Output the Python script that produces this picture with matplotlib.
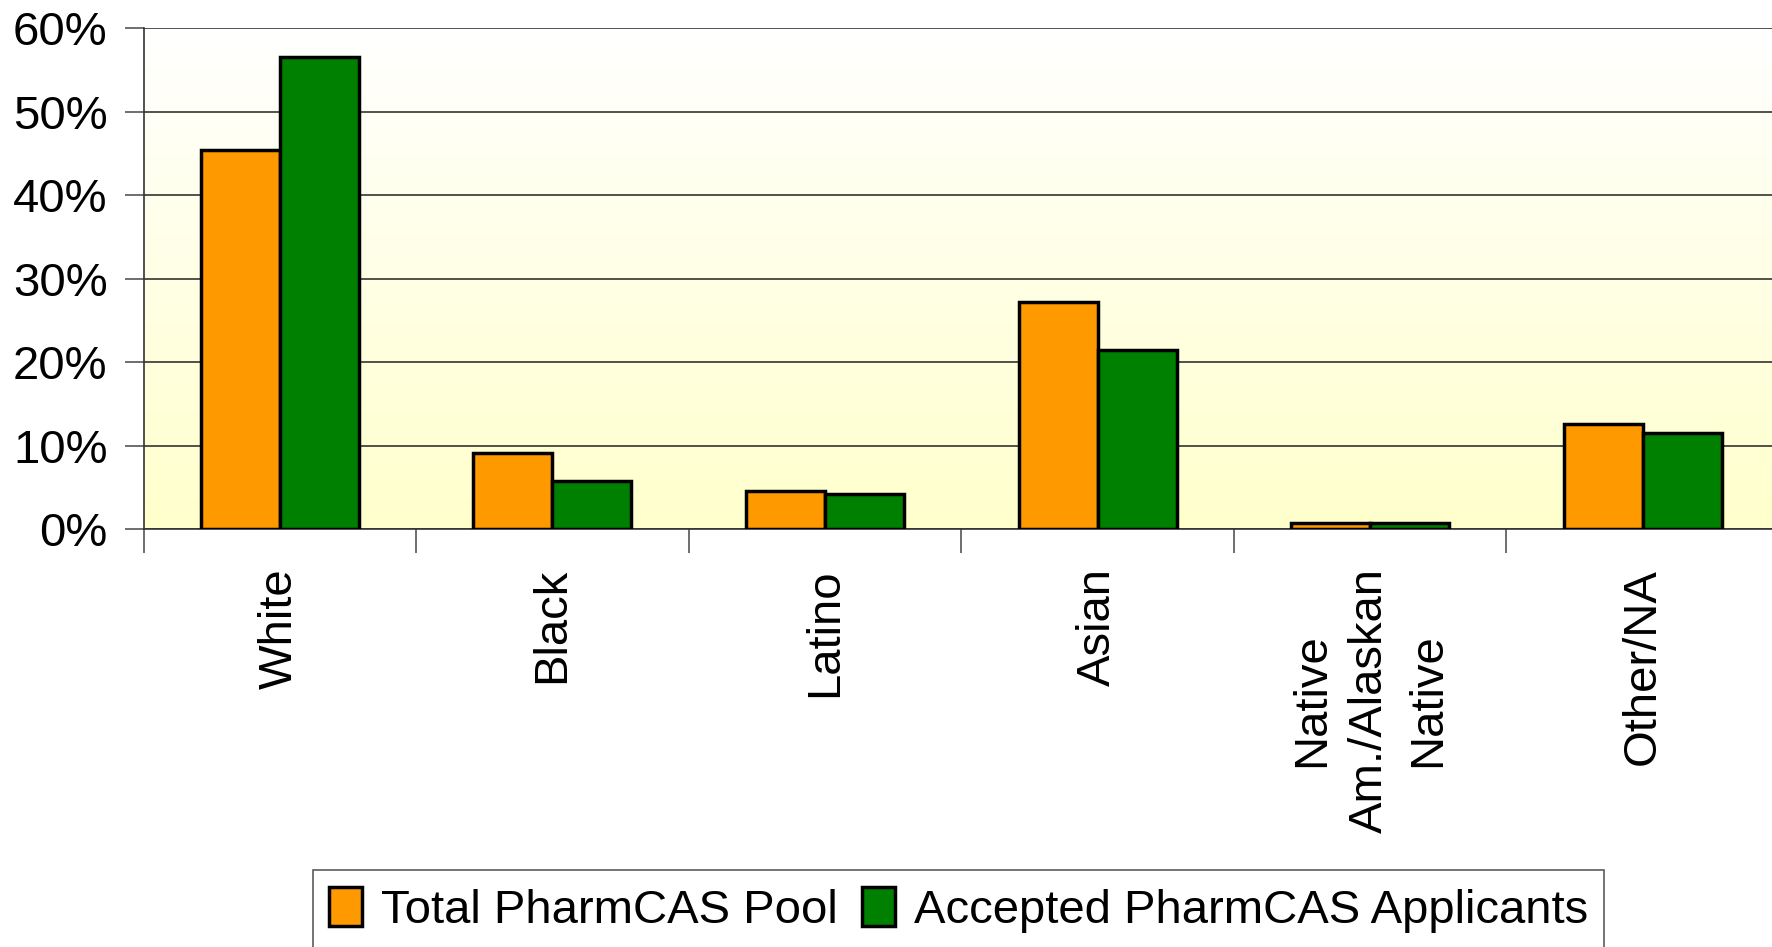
import numpy as np
import matplotlib
matplotlib.use("Agg")
import matplotlib.pyplot as plt
from matplotlib.ticker import FuncFormatter

plt.rcParams['font.family'] = ['Liberation Sans', 'DejaVu Sans']

# data (percent)
categories = ["White", "Black", "Latino", "Asian", "Native\nAm./Alaskan\nNative", "Other/NA"]
total_pool = [45.4, 9.1, 4.5, 27.2, 0.7, 12.6]
accepted = [56.6, 5.7, 4.2, 21.4, 0.7, 11.5]
series_names = ["Total PharmCAS Pool", "Accepted PharmCAS Applicants"]

fig = plt.figure(figsize=(17.72, 9.47), dpi=100)
ax = fig.add_axes([0.081, 0.4414, 0.923, 0.5287])

# gradient background, white at top to pale yellow at bottom
grad = np.linspace(0, 1, 256).reshape(-1, 1)
top = np.array([1.0, 1.0, 1.0])
bot = np.array([1.0, 1.0, 0.80])
img = (1 - grad)[..., None] * bot + grad[..., None] * top
img = img[::-1]
ax.imshow(img, extent=[0, len(categories), 0, 60], aspect='auto', origin='upper', zorder=0)

x = np.arange(len(categories)) + 0.5
w = 0.29
ax.bar(x - w / 2, total_pool, w, color='#FF9900', edgecolor='black', linewidth=2.5, zorder=3, label=series_names[0])
ax.bar(x + w / 2, accepted, w, color='#008000', edgecolor='black', linewidth=2.5, zorder=3, label=series_names[1])

ax.set_xlim(0, len(categories))
ax.set_ylim(0, 60)
ax.set_yticks(range(0, 61, 10))
ax.yaxis.set_major_formatter(FuncFormatter(lambda v, p: f"{v:.0f}%"))
ax.grid(axis='y', color='#333333', linewidth=1.2, zorder=1)
ax.set_axisbelow(True)

ax.set_xticks(np.arange(len(categories) + 1))
ax.set_xticklabels([])
ax.set_xticks(x, minor=True)
ax.set_xticklabels(categories, minor=True, rotation=90, fontsize=34, linespacing=1.4, va='top', ha='center')
ax.tick_params(axis='x', which='minor', length=0, pad=28)
ax.tick_params(axis='x', which='major', length=17, width=1.2, color='#555555')
ax.tick_params(axis='y', length=14, width=1.2, color='#555555', labelsize=34, pad=12)

for s in ['top', 'right']:
    ax.spines[s].set_visible(False)
ax.spines['left'].set_color('#333333')
ax.spines['bottom'].set_color('#333333')
ax.spines['left'].set_linewidth(1.2)
ax.spines['bottom'].set_linewidth(1.2)

leg = fig.legend(loc='upper center', bbox_to_anchor=(0.541, 0.081), ncol=2, fontsize=34,
                 frameon=True, fancybox=False, edgecolor='#333333', handlelength=0.7,
                 handleheight=0.9, handletextpad=0.4, columnspacing=0.5, borderpad=0.35,
                 borderaxespad=0)
leg.get_frame().set_linewidth(1.2)

fig.savefig("out.png", dpi=100)
